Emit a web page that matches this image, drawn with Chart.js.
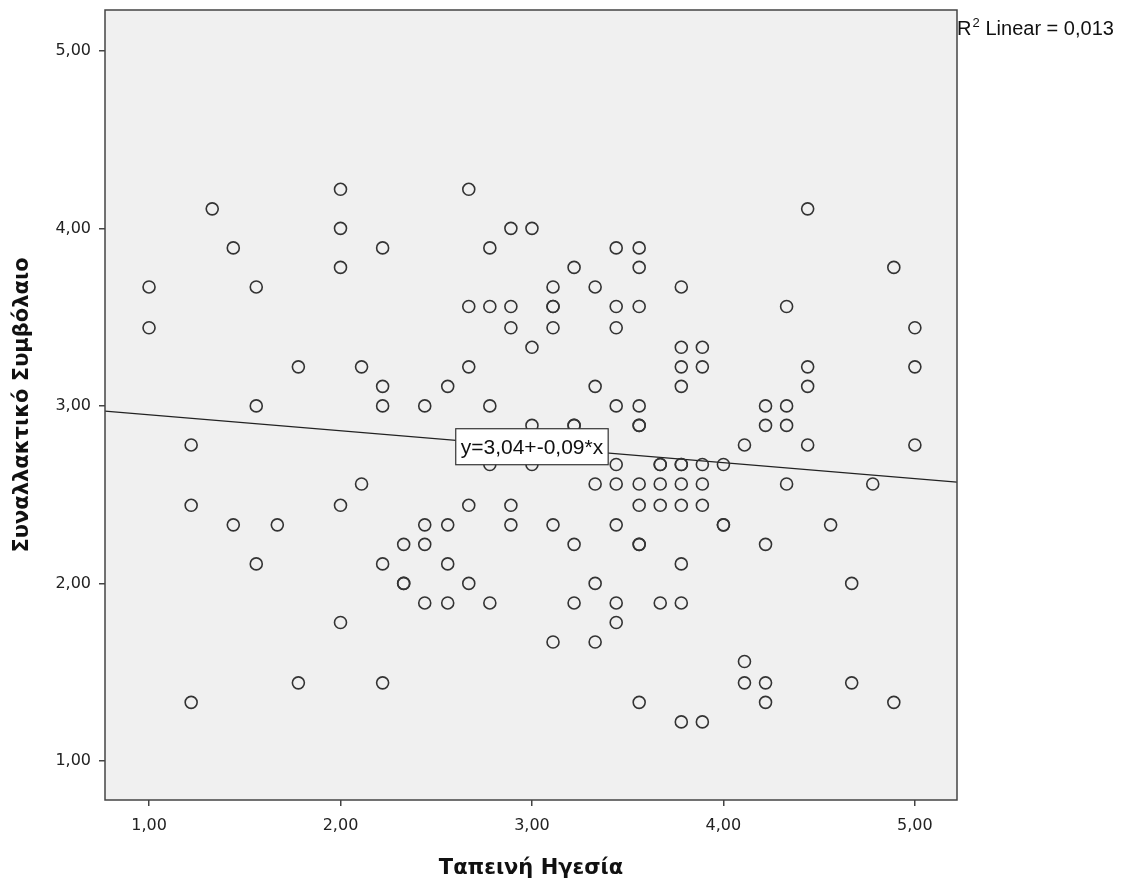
<!DOCTYPE html>
<html>
<head>
<meta charset="utf-8">
<script src="https://cdn.jsdelivr.net/npm/chart.js@4.4.1/dist/chart.umd.min.js"></script>
<style>
  body { margin: 0; background: #fff; }
  canvas { display: block; }
</style>
</head>
<body>
<canvas id="scatterChart" width="1124" height="888"></canvas>
<script>
// Ταπεινή Ηγεσία (x) and Συναλλακτικό Συμβόλαιο (y), one entry per respondent
const xValues = [
    1.00, 1.00,
    1.22, 1.22, 1.22,
    1.33,
    1.44, 1.44,
    1.56, 1.56, 1.56,
    1.67,
    1.78, 1.78,
    2.00, 2.00, 2.00, 2.00, 2.00,
    2.11, 2.11,
    2.22, 2.22, 2.22, 2.22, 2.22,
    2.33, 2.33, 2.33,
    2.44, 2.44, 2.44, 2.44,
    2.56, 2.56, 2.56, 2.56,
    2.67, 2.67, 2.67, 2.67, 2.67,
    2.78, 2.78, 2.78, 2.78, 2.78,
    2.89, 2.89, 2.89, 2.89, 2.89,
    3.00, 3.00, 3.00, 3.00,
    3.11, 3.11, 3.11, 3.11, 3.11, 3.11,
    3.22, 3.22, 3.22, 3.22, 3.22,
    3.33, 3.33, 3.33, 3.33, 3.33,
    3.44, 3.44, 3.44, 3.44, 3.44, 3.44, 3.44, 3.44, 3.44,
    3.56, 3.56, 3.56, 3.56, 3.56, 3.56, 3.56, 3.56, 3.56, 3.56, 3.56,
    3.67, 3.67, 3.67, 3.67, 3.67,
    3.78, 3.78, 3.78, 3.78, 3.78, 3.78, 3.78, 3.78, 3.78, 3.78, 3.78,
    3.89, 3.89, 3.89, 3.89, 3.89, 3.89,
    4.00, 4.00, 4.00,
    4.11, 4.11, 4.11,
    4.22, 4.22, 4.22, 4.22, 4.22,
    4.33, 4.33, 4.33, 4.33,
    4.44, 4.44, 4.44, 4.44,
    4.56,
    4.67, 4.67,
    4.78,
    4.89, 4.89,
    5.00, 5.00, 5.00
];
const yValues = [
    3.67, 3.44,
    2.78, 2.44, 1.33,
    4.11,
    3.89, 2.33,
    3.67, 3.00, 2.11,
    2.33,
    3.22, 1.44,
    4.22, 4.00, 3.78, 2.44, 1.78,
    3.22, 2.56,
    3.89, 3.11, 3.00, 2.11, 1.44,
    2.22, 2.00, 2.00,
    3.00, 2.33, 2.22, 1.89,
    3.11, 2.33, 2.11, 1.89,
    4.22, 3.56, 3.22, 2.44, 2.00,
    3.89, 3.56, 3.00, 2.67, 1.89,
    4.00, 3.56, 3.44, 2.44, 2.33,
    4.00, 3.33, 2.89, 2.67,
    3.67, 3.56, 3.56, 3.44, 2.33, 1.67,
    3.78, 2.89, 2.89, 2.22, 1.89,
    3.67, 3.11, 2.56, 2.00, 1.67,
    3.89, 3.56, 3.44, 3.00, 2.67, 2.56, 2.33, 1.89, 1.78,
    3.89, 3.78, 3.56, 3.00, 2.89, 2.89, 2.56, 2.44, 2.22, 2.22, 1.33,
    2.67, 2.67, 2.56, 2.44, 1.89,
    3.67, 3.33, 3.22, 3.11, 2.67, 2.67, 2.56, 2.44, 2.11, 1.89, 1.22,
    3.33, 3.22, 2.67, 2.56, 2.44, 1.22,
    2.67, 2.33, 2.33,
    2.78, 1.56, 1.44,
    3.00, 2.89, 2.22, 1.44, 1.33,
    3.56, 3.00, 2.89, 2.56,
    4.11, 3.22, 3.11, 2.78,
    2.33,
    2.00, 1.44,
    2.56,
    3.78, 1.33,
    3.44, 3.22, 2.78
];

// axis ranges and tick labels
const xRange = [0.77, 5.22];
const yRange = [0.78, 5.23];
const xTicks = [1, 2, 3, 4, 5];
const yTicks = [1, 2, 3, 4, 5];

// linear fit shown on the chart
const fitIntercept = 3.04;
const fitSlope = -0.09;
const fitLabel = 'y=3,04+-0,09*x';
const rSquaredText = 'Linear = 0,013';

const xTitle = 'Ταπεινή Ηγεσία';
const yTitle = 'Συναλλακτικό Συμβόλαιο';

document.addEventListener('DOMContentLoaded', () => {
    const ctx = document.getElementById('scatterChart').getContext('2d');

    const points = xValues.map((x, i) => ({ x: x, y: yValues[i] }));
    const fitLine = xRange.map(x => ({ x: x, y: fitIntercept + fitSlope * x }));

    const commaFormat = v => v.toFixed(2).replace('.', ',');
    const tickFont = { family: '"DejaVu Sans", sans-serif', size: 16 };
    const titleFont = { family: '"DejaVu Sans", sans-serif', size: 21, weight: 'bold' };
    const arial = '"Liberation Sans", Arial, sans-serif';

    // grey plot background, full frame, equation box and R² note
    const spssFrame = {
        id: 'spssFrame',
        beforeDatasetsDraw(chart) {
            const a = chart.chartArea;
            const c = chart.ctx;
            c.save();
            c.fillStyle = '#f0f0f0';
            c.fillRect(a.left, a.top, a.right - a.left, a.bottom - a.top);
            c.restore();
        },
        afterDatasetsDraw(chart) {
            const a = chart.chartArea;
            const c = chart.ctx;
            const xs = chart.scales.x;
            const ys = chart.scales.y;
            c.save();
            c.strokeStyle = '#444';
            c.lineWidth = 1.5;
            c.strokeRect(a.left, a.top, a.right - a.left, a.bottom - a.top);

            // equation label
            c.font = '21px ' + arial;
            const cx = xs.getPixelForValue(3.0);
            const cy = ys.getPixelForValue(2.77);
            const w = c.measureText(fitLabel).width + 10;
            const h = 36;
            c.fillStyle = '#fff';
            c.fillRect(cx - w / 2, cy - h / 2, w, h);
            c.strokeStyle = '#333';
            c.lineWidth = 1.2;
            c.strokeRect(cx - w / 2, cy - h / 2, w, h);
            c.fillStyle = '#111';
            c.textAlign = 'center';
            c.textBaseline = 'middle';
            c.fillText(fitLabel, cx, cy + 1);

            // R² Linear note to the right of the frame
            c.textAlign = 'left';
            c.textBaseline = 'alphabetic';
            c.font = '20px ' + arial;
            c.fillText('R', a.right, 35);
            const rw = c.measureText('R').width;
            c.font = '13px ' + arial;
            c.fillText('2', a.right + rw + 1, 27);
            c.font = '20px ' + arial;
            c.fillText(rSquaredText, a.right + rw + 14, 35);
            c.restore();
        }
    };

    new Chart(ctx, {
        type: 'scatter',
        data: {
            datasets: [{
                label: 'fit',
                type: 'line',
                data: fitLine,
                borderColor: '#222',
                borderWidth: 1.3,
                pointRadius: 0,
                fill: false,
                order: 2
            }, {
                label: 'cases',
                data: points,
                pointStyle: 'circle',
                pointRadius: 6,
                pointBorderWidth: 1.6,
                pointBorderColor: '#333',
                pointBackgroundColor: 'rgba(0,0,0,0)',
                order: 1
            }]
        },
        options: {
            responsive: false,
            animation: false,
            layout: { padding: { left: 0, top: 10, right: 167, bottom: 0 } },
            plugins: {
                legend: { display: false },
                tooltip: { enabled: false }
            },
            scales: {
                x: {
                    type: 'linear',
                    min: xRange[0],
                    max: xRange[1],
                    afterBuildTicks: s => { s.ticks = xTicks.map(v => ({ value: v })); },
                    afterFit: s => { s.height = 88; s.paddingLeft = 0; s.paddingRight = 0; },
                    border: { display: false },
                    grid: { drawOnChartArea: false, drawTicks: true, tickLength: 6, color: '#444', lineWidth: 1.5 },
                    ticks: {
                        color: '#222',
                        padding: 10,
                        maxRotation: 0,
                        font: tickFont,
                        callback: commaFormat
                    },
                    title: {
                        display: true,
                        text: xTitle,
                        color: '#111',
                        padding: { top: 0, bottom: 7 },
                        font: titleFont
                    }
                },
                y: {
                    type: 'linear',
                    min: yRange[0],
                    max: yRange[1],
                    afterBuildTicks: s => { s.ticks = yTicks.map(v => ({ value: v })); },
                    afterFit: s => { s.width = 105; s.paddingTop = 0; s.paddingBottom = 0; },
                    border: { display: false },
                    grid: { drawOnChartArea: false, drawTicks: true, tickLength: 6, color: '#444', lineWidth: 1.5 },
                    ticks: {
                        color: '#222',
                        padding: 8,
                        font: tickFont,
                        callback: commaFormat
                    },
                    title: {
                        display: true,
                        text: yTitle,
                        color: '#111',
                        padding: { top: 10, bottom: 0 },
                        font: titleFont
                    }
                }
            }
        },
        plugins: [spssFrame]
    });
});
</script>
</body>
</html>
